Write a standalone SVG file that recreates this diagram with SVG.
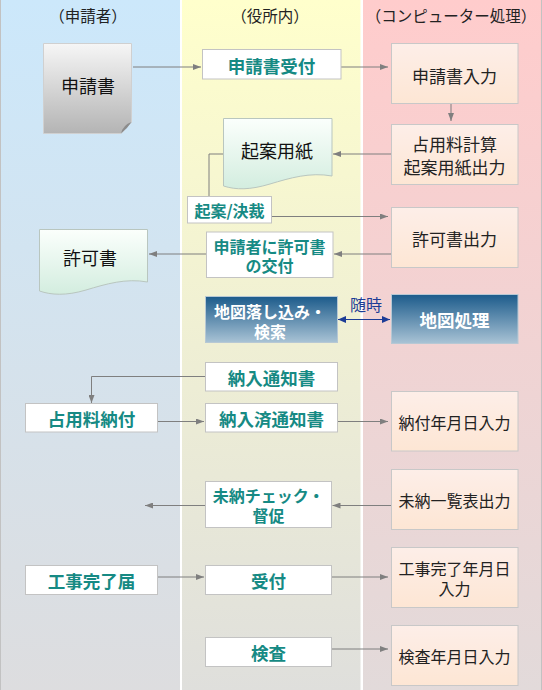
<svg xmlns="http://www.w3.org/2000/svg" width="542" height="690" viewBox="0 0 542 690">
<defs>
<linearGradient id="gL" x1="0" y1="0" x2="0" y2="1"><stop offset="0" stop-color="#cce8fb"/><stop offset="1" stop-color="#dddddf"/></linearGradient>
<linearGradient id="gM" x1="0" y1="0" x2="0" y2="1"><stop offset="0" stop-color="#ffffcc"/><stop offset="1" stop-color="#dfdfdc"/></linearGradient>
<linearGradient id="gR" x1="0" y1="0" x2="0" y2="1"><stop offset="0" stop-color="#ffcccc"/><stop offset="1" stop-color="#e2dada"/></linearGradient>
<linearGradient id="gPeach" x1="0" y1="0" x2="0" y2="1"><stop offset="0" stop-color="#fdeee8"/><stop offset="1" stop-color="#fde6d4"/></linearGradient>
<linearGradient id="gGray" x1="0" y1="0" x2="0" y2="1"><stop offset="0" stop-color="#f6f6f6"/><stop offset="1" stop-color="#b4b4b4"/></linearGradient>
<linearGradient id="gGreen" x1="0" y1="0" x2="0" y2="1"><stop offset="0" stop-color="#fbfffc"/><stop offset="1" stop-color="#d3eddf"/></linearGradient>
<linearGradient id="gBlue" x1="0" y1="0" x2="0" y2="1"><stop offset="0" stop-color="#1c5b8b"/><stop offset="1" stop-color="#a9c3d5"/></linearGradient>
<marker id="ah" markerWidth="8" markerHeight="6" refX="8" refY="3" orient="auto" markerUnits="userSpaceOnUse"><path d="M0,0 L8,3 L0,6 Z" fill="#7f7f7f"/></marker>
<marker id="bh" markerWidth="8" markerHeight="7" refX="8" refY="3.5" orient="auto-start-reverse" markerUnits="userSpaceOnUse"><path d="M0,0 L8,3.5 L0,7 Z" fill="#1c3c96"/></marker>
</defs>
<style>
text{font-family:"Noto Sans CJK JP","Noto Sans",sans-serif;text-anchor:middle;dominant-baseline:central}
.hd{font-size:15.5px;fill:#222}
.box{fill:#fff;stroke:#c3c3c3;stroke-width:1}
.pc{fill:url(#gPeach);stroke:#c8c8c8;stroke-width:1}
.bl{fill:url(#gBlue);stroke:#b7c8d4;stroke-width:1}
.gr{fill:url(#gGreen);stroke:#b9c6bf;stroke-width:1}
.tl{font-size:17.5px;font-weight:bold;fill:#168a84}
.tl2{font-size:16px;font-weight:bold;fill:#168a84}
.wt{font-size:16px;font-weight:bold;fill:#fff}
.rt{font-size:17px;fill:#222}
.rt2{font-size:16px;fill:#222}
.dt{font-size:18px;fill:#111}
.cn{fill:none;stroke:#7f7f7f;stroke-width:1}
</style>
<rect x="0" y="0" width="542" height="690" fill="#fff"/>
<g id="lanes">
<rect x="0" y="0" width="180" height="690" fill="url(#gL)"/>
<rect x="182" y="0" width="178.5" height="690" fill="url(#gM)"/>
<rect x="363" y="0" width="179" height="690" fill="url(#gR)"/>
<line x1="0.5" y1="0" x2="0.5" y2="690" stroke="#c2c2c2"/>
<line x1="541.5" y1="0" x2="541.5" y2="690" stroke="#c2c2c2"/>
<text class="hd" x="88" y="15">（申請者）</text>
<text class="hd" x="270" y="15">（役所内）</text>
<text class="hd" x="451" y="15">（コンピューター処理）</text>
</g>
<g id="connectors">
<line class="cn" x1="133" y1="67" x2="201" y2="67" marker-end="url(#ah)"/>
<line class="cn" x1="341" y1="67" x2="388" y2="67" marker-end="url(#ah)"/>
<line class="cn" x1="451" y1="103" x2="451" y2="121" marker-end="url(#ah)"/>
<line class="cn" x1="391" y1="154" x2="333" y2="154" marker-end="url(#ah)"/>
<polyline class="cn" points="209,196 209,154 223,154"/>
<line class="cn" x1="271.5" y1="216.5" x2="388" y2="216.5" marker-end="url(#ah)"/>
<line class="cn" x1="391" y1="254" x2="334" y2="254" marker-end="url(#ah)"/>
<line class="cn" x1="206" y1="254" x2="149" y2="254" marker-end="url(#ah)"/>
<line x1="338" y1="319.5" x2="390" y2="319.5" stroke="#1c3c96" stroke-width="1.2" marker-start="url(#bh)" marker-end="url(#bh)"/>
<text x="366" y="303.5" style="font-size:16px;fill:#1c3c96">随時</text>
<polyline class="cn" points="205,376.5 91.5,376.5 91.5,403" marker-end="url(#ah)"/>
<line class="cn" x1="157.5" y1="421.5" x2="204" y2="421.5" marker-end="url(#ah)"/>
<line class="cn" x1="337.5" y1="421.5" x2="388" y2="421.5" marker-end="url(#ah)"/>
<line class="cn" x1="391" y1="505.5" x2="332.5" y2="505.5" marker-end="url(#ah)"/>
<line class="cn" x1="205" y1="505.5" x2="145" y2="505.5" marker-end="url(#ah)"/>
<line class="cn" x1="157.5" y1="577" x2="204" y2="577" marker-end="url(#ah)"/>
<line class="cn" x1="331.5" y1="577" x2="388" y2="577" marker-end="url(#ah)"/>
<line class="cn" x1="331.5" y1="649" x2="388" y2="649" marker-end="url(#ah)"/>
</g>
<g id="n-shinseisho">
<path d="M43.5,43.5 H131.5 V122 L121,133.5 H43.5 Z" fill="url(#gGray)" stroke="#d0d0d0"/>
<path d="M121,133.5 Q123,125 131.5,122 Q127,129 121,133.5 Z" fill="#8c8c8c"/>
<text class="dt" x="88" y="85">申請書</text>
</g>
<g id="n-uketsuke1"><rect class="box" x="202.5" y="49.5" width="138.5" height="29.5"/><text class="tl" x="271.5" y="65">申請書受付</text></g>
<g id="n-nyuryoku"><rect class="pc" x="391.5" y="43.5" width="126.5" height="60"/><text class="rt" x="454.5" y="75">申請書入力</text></g>
<g id="n-kianyoshi">
<path d="M223.5,118.5 H332 V176 C310,172 290,178 270,184 C250,190 236,190 223.5,186 Z" class="gr"/>
<text class="dt" x="277" y="150">起案用紙</text>
</g>
<g id="n-keisan"><rect class="pc" x="391.5" y="124.5" width="126.5" height="60"/><text class="rt" x="454.5" y="143">占用料計算</text><text class="rt" x="454.5" y="166">起案用紙出力</text></g>
<g id="n-kessai"><rect class="box" x="187.5" y="196.5" width="84" height="26.5"/><text class="tl2" x="229.5" y="210">起案/決裁</text></g>
<g id="n-kyokashoshutsu"><rect class="pc" x="391.5" y="207.5" width="126.5" height="60"/><text class="rt" x="454.5" y="238">許可書出力</text></g>
<g id="n-kofu"><rect class="box" x="206.5" y="232" width="126.5" height="45.5"/><text class="tl2" x="269.5" y="246">申請者に許可書</text><text class="tl2" x="269.5" y="264.5">の交付</text></g>
<g id="n-kyokasho">
<path d="M39.5,229.5 H147.5 V282 C126,278 106,284 86,290 C66,296 51,295 39.5,291 Z" class="gr"/>
<text class="dt" x="90" y="257">許可書</text>
</g>
<g id="n-chizukensaku"><rect class="bl" x="205.5" y="296.5" width="132" height="46"/><text class="wt" x="270" y="311">地図落し込み・</text><text class="wt" x="270" y="330.5">検索</text></g>
<g id="n-chizushori"><rect class="bl" x="391.5" y="294.5" width="126.5" height="49"/><text class="wt" x="454.5" y="319.5" style="font-size:17.5px">地図処理</text></g>
<g id="n-nonyutsuchi"><rect class="box" x="205.5" y="362.5" width="132" height="28.5"/><text class="tl" x="271.5" y="377">納入通知書</text></g>
<g id="n-senyonofu"><rect class="box" x="25.5" y="403.5" width="132" height="28.5"/><text class="tl" x="91.5" y="418.5">占用料納付</text></g>
<g id="n-nonyuzumi"><rect class="box" x="205.5" y="403.5" width="132" height="28.5"/><text class="tl" x="271.5" y="418.5">納入済通知書</text></g>
<g id="n-nofunengappi"><rect class="pc" x="391.5" y="391.5" width="126.5" height="59.5"/><text class="rt2" x="454.5" y="422">納付年月日入力</text></g>
<g id="n-minoichiran"><rect class="pc" x="391.5" y="469.5" width="126.5" height="60"/><text class="rt2" x="454.5" y="500">未納一覧表出力</text></g>
<g id="n-minocheck"><rect class="box" x="205.5" y="481.5" width="126" height="46"/><text class="tl2" x="268.5" y="495">未納チェック・</text><text class="tl2" x="268.5" y="515">督促</text></g>
<g id="n-kojikanryo"><rect class="box" x="25.5" y="565.5" width="132" height="29"/><text class="tl" x="91.5" y="580.5">工事完了届</text></g>
<g id="n-uketsuke2"><rect class="box" x="205.5" y="565.5" width="126" height="29"/><text class="tl" x="268.5" y="580.5">受付</text></g>
<g id="n-kojinengappi"><rect class="pc" x="391.5" y="547.5" width="126.5" height="60"/><text class="rt2" x="454.5" y="568">工事完了年月日</text><text class="rt2" x="454.5" y="587.5">入力</text></g>
<g id="n-kensa"><rect class="box" x="205.5" y="637.5" width="126" height="29"/><text class="tl" x="268.5" y="652.5">検査</text></g>
<g id="n-kensanengappi"><rect class="pc" x="391.5" y="625.5" width="126.5" height="60"/><text class="rt2" x="454.5" y="656">検査年月日入力</text></g>
</svg>
